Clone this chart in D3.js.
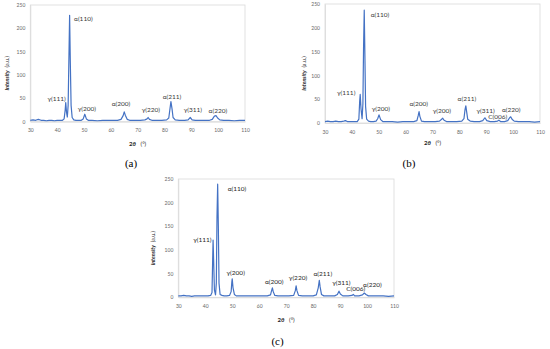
<!DOCTYPE html>
<html>
<head>
<meta charset="utf-8">
<script src="https://cdn.jsdelivr.net/npm/d3@7"></script>
<style>
  body { margin: 0; background: #fff; }
  svg { display: block; }
</style>
</head>
<body>
<svg id="chart" width="550" height="349"></svg>
<script>
// diffraction patterns, [2theta, intensity]
var patternA = [
  [30,3],[31,4],[32,3],[33,5],[34,3],[35,3],[36,2],[37,3],[38,3],[39,2],[40,3],[41,3],[42,3],
  [42.6,6],[43,25],[43.2,41],[43.5,20],[43.8,10],[44.1,35],[44.4,140],[44.65,228],[44.9,130],
  [45.2,35],[45.6,9],[46.2,4],[47,3],[48,3],[49,3],[49.7,6],[50.3,16],[50.9,6],[51.6,3],[53,3],
  [55,2],[57,3],[59,3],[61,3],[62.5,3],[63.8,5],[64.6,13],[65,21],[65.4,14],[66.1,5],[67,3],
  [69,3],[71,3],[72.7,4],[73.5,6],[73.9,9],[74.4,5],[75.3,3],[77,3],[79,3],[80.8,4],[81.6,8],
  [82.1,30],[82.4,43],[82.8,28],[83.2,9],[84,4],[85.5,3],[87.5,3],[88.8,4],[89.6,9],[90.3,4],
  [91.5,3],[93,3],[95,3],[96.8,3],[97.8,5],[98.6,12],[99.2,13],[99.8,8],[100.6,4],[102,3],
  [104,3],[106,2],[108,3],[110,3]
];
var patternB = [
  [30,3],[31,4],[32,3],[33,3],[34,4],[35,3],[36,3],[37,4],[37.6,5],[38.3,3],[39,3],[40,3],[41,3],
  [42,3],[42.6,8],[42.9,45],[43.1,60],[43.4,30],[43.8,9],[44.1,40],[44.35,160],[44.6,237],
  [44.85,140],[45.1,35],[45.5,8],[46.2,4],[47,3],[48,3],[49,4],[49.6,9],[50.1,17],[50.7,7],
  [51.5,3],[53,3],[55,3],[57,2],[59,3],[61,3],[63,3],[64.2,5],[64.7,16],[65,24],[65.3,14],
  [65.9,4],[67,3],[69,3],[71,3],[72.6,4],[73.4,8],[73.8,10],[74.3,6],[75.2,3],[77,3],[79,3],
  [80.9,4],[81.7,9],[82.1,28],[82.4,36],[82.7,24],[83.1,8],[84,4],[85.5,3],[87.5,3],[88.7,5],
  [89.5,11],[90.2,5],[91.5,3],[93,3],[94.2,4],[94.7,6],[95.3,3],[96.8,3],[98,5],[98.7,11],
  [99.1,13],[99.6,8],[100.4,4],[102,3],[104,3],[106,3],[108,2],[110,3]
];
var patternC = [
  [30,3],[31,3],[32,4],[33,3],[34,3],[35,2],[36,3],[37,3],[38,3],[39,3],[40,3],[41,3],[42,4],
  [42.5,10],[42.75,80],[42.9,121],[43.1,80],[43.4,15],[43.8,5],[44.1,30],[44.35,170],[44.6,239],
  [44.85,150],[45.1,30],[45.5,6],[46.2,4],[47,3],[48,3],[49,4],[49.6,12],[49.85,32],[50,39],
  [50.3,20],[50.8,6],[51.5,3],[53,3],[55,3],[57,3],[59,3],[61,3],[63,3],[64.2,5],[64.6,14],
  [64.9,20],[65.2,12],[65.8,4],[67,3],[69,3],[71,3],[72.8,4],[73.4,14],[73.7,24],[74,14],
  [74.6,4],[76,3],[78,3],[80,3],[81.2,5],[81.9,20],[82.3,36],[82.6,22],[83.1,6],[84,3],[86,3],
  [88,3],[89,6],[89.6,13],[90.1,7],[91,3],[93,3],[94.4,4],[94.9,6],[95.4,3],[97,3],[98.3,5],
  [99,9],[99.6,6],[100.5,3],[102,3],[104,3],[106,3],[108,2],[110,3]
];

var xTicks = [30, 40, 50, 60, 70, 80, 90, 100, 110];
var yTicks = [0, 50, 100, 150, 200, 250];

// peak labels: text, anchor 2theta, anchor intensity
var labelsA = ['γ(111)', 'α(110)', 'γ(200)', 'α(200)', 'γ(220)', 'α(211)', 'γ(311)', 'α(220)'];
var labelAtA = [[39.8,49],[46.3,220],[51.1,27],[63.8,38],[74.9,25],[82.8,53],[90.6,25],[99.9,24]];
var labelsB = ['γ(111)', 'α(110)', 'γ(200)', 'α(200)', 'γ(200)', 'α(211)', 'γ(311)', 'C(006)', 'α(220)'];
var labelAtB = [[37.9,64],[47.0,227],[50.8,29],[64.9,41],[73.5,25],[82.8,50],[89.8,25],[94.3,14],[99.3,27]];
var labelsC = ['γ(111)', 'α(110)', 'γ(200)', 'α(200)', 'γ(220)', 'α(211)', 'γ(311)', 'C(006)', 'α(220)'];
var labelAtC = [[38.9,121],[48.3,229],[51.3,52],[65.6,32],[74.4,42],[83.6,49],[90.5,30],[95.8,18],[102,26]];

var panelNames = ['(a)', '(b)', '(c)'];

var svg = d3.select('#chart');
var fontSans = 'Lato, "Open Sans", sans-serif';

var panels = [
  {data: patternA, labels: labelsA, at: labelAtA, box: {l: 30.3, r: 245, t: 5, b: 121.7}, name: [131, 163], ylab: 7.5, xlab: 143.5},
  {data: patternB, labels: labelsB, at: labelAtB, box: {l: 325, r: 540, t: 4, b: 123}, name: [409, 163], ylab: 304, xlab: 143},
  {data: patternC, labels: labelsC, at: labelAtC, box: {l: 178.3, r: 394, t: 179, b: 297.3}, name: [277.5, 341], ylab: 153, xlab: 319.5}
];

panels.forEach(function(p, k) {
  var b = p.box;
  var x = d3.scaleLinear().domain([30, 110]).range([b.l, b.r]);
  var y = d3.scaleLinear().domain([0, 250]).range([b.b, b.t]);
  var g = svg.append('g');

  // plot frame
  g.append('rect')
    .attr('x', b.l).attr('y', b.t)
    .attr('width', b.r - b.l).attr('height', b.b - b.t)
    .attr('fill', 'none')
    .attr('stroke', '#d9d9d9')
    .attr('stroke-width', 0.8);

  var xAxis = g.append('g')
    .attr('transform', 'translate(0,' + b.b + ')')
    .call(d3.axisBottom(x).tickValues(xTicks).tickSize(0).tickPadding(7));
  var yAxis = g.append('g')
    .attr('transform', 'translate(' + b.l + ',0)')
    .call(d3.axisLeft(y).tickValues(yTicks).tickSize(0).tickPadding(5));
  [xAxis, yAxis].forEach(function(a) {
    a.select('.domain').attr('stroke', '#d9d9d9').attr('stroke-width', 0.8);
    a.selectAll('text')
      .attr('font-family', fontSans)
      .attr('font-size', 5)
      .attr('fill', '#666');
  });

  var line = d3.line()
    .x(function(d) { return x(d[0]); })
    .y(function(d) { return y(d[1]); });

  g.append('path')
    .datum(p.data)
    .attr('d', line)
    .attr('fill', 'none')
    .attr('stroke', '#4472c4')
    .attr('stroke-width', 1.2)
    .attr('stroke-linejoin', 'round');

  g.selectAll('.peak')
    .data(p.labels)
    .enter().append('text')
      .attr('class', 'peak')
      .attr('x', function(d, i) { return x(p.at[i][0]); })
      .attr('y', function(d, i) { return y(p.at[i][1]); })
      .attr('dy', '0.35em')
      .attr('text-anchor', function(d, i) { return i == 1 ? 'start' : 'middle'; })
      .attr('font-family', fontSans)
      .attr('font-size', 6.5)
      .attr('fill', k == 2 ? '#262626' : '#3a3a3a')
      .text(function(d) { return d; });

  // y title
  var yt = g.append('text')
    .attr('transform', 'translate(' + p.ylab + ',' + ((b.t + b.b) / 2 + 10) + ') rotate(-90)')
    .attr('text-anchor', 'middle')
    .attr('dy', '0.35em')
    .attr('font-family', fontSans)
    .attr('font-size', 5.5)
    .attr('fill', '#262626');
  yt.append('tspan').attr('font-weight', 'bold').attr('font-style', 'italic').text('Intensity');
  yt.append('tspan').text('\u00a0\u00a0(a.u.)');

  // x title
  var xt = g.append('text')
    .attr('x', (b.l + b.r) / 2)
    .attr('y', p.xlab)
    .attr('text-anchor', 'middle')
    .attr('dy', '0.35em')
    .attr('font-family', fontSans)
    .attr('font-size', 6)
    .attr('fill', '#262626');
  xt.append('tspan').attr('font-weight', 'bold').text('2');
  xt.append('tspan').attr('font-weight', 'bold').attr('font-style', 'italic').text('θ');
  xt.append('tspan').text('\u00a0\u00a0\u00a0(°)');

  svg.append('text')
    .attr('x', p.name[0]).attr('y', p.name[1])
    .attr('text-anchor', 'middle')
    .attr('dy', '0.35em')
    .attr('font-family', '"Liberation Serif", serif')
    .attr('font-size', 11)
    .attr('fill', '#000')
    .text(panelNames[k]);
});
</script>
</body>
</html>
